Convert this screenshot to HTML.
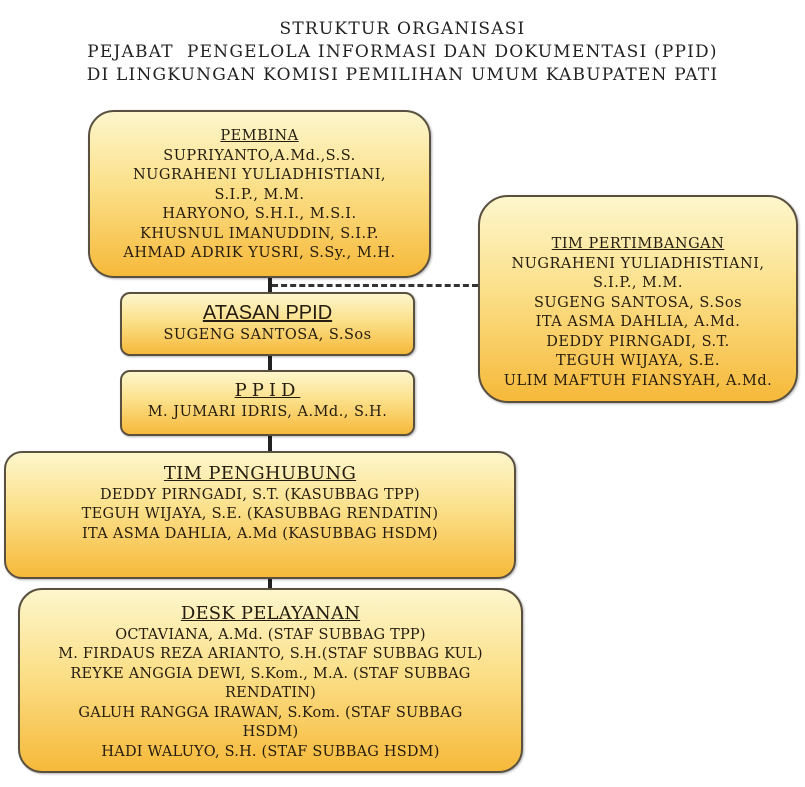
<!DOCTYPE html>
<html><head><meta charset="utf-8"><style>
body{margin:0;width:805px;height:787px;background:#fff;position:relative;overflow:hidden;font-family:"DejaVu Serif",serif;color:#2a2215}
.t{position:absolute;left:0;width:805px;text-align:center;font-size:17px;letter-spacing:1.2px;line-height:23px;top:18px;color:#222}
.b{position:absolute;box-sizing:border-box;border:2px solid #5a5040;background:linear-gradient(#fdf6cc 0%,#fbe08a 45%,#f6b93a 100%);text-align:center;font-size:14.5px;letter-spacing:0.5px;line-height:19.5px;box-shadow:1px 1px 2px rgba(0,0,0,.3);white-space:nowrap;color:#241c10}
.h{text-decoration:underline}
.s{font-family:"Liberation Sans",sans-serif;font-size:20px;line-height:22px;letter-spacing:0}
.l{position:absolute;background:#222}
</style></head><body>
<div class="t">STRUKTUR ORGANISASI<br>PEJABAT&nbsp; PENGELOLA INFORMASI DAN DOKUMENTASI (PPID)<br>DI LINGKUNGAN KOMISI PEMILIHAN UMUM KABUPATEN PATI</div>

<div class="l" style="left:268px;top:277px;width:4px;height:312px"></div>
<div style="position:absolute;left:272px;top:284px;width:206px;border-top:3px dashed #333"></div>

<div class="b" style="left:88px;top:110px;width:343px;height:168px;border-radius:26px;padding-top:15px">
<span class="h">PEMBINA</span><br>SUPRIYANTO,A.Md.,S.S.<br>NUGRAHENI YULIADHISTIANI,<br>S.I.P., M.M.<br>HARYONO, S.H.I., M.S.I.<br>KHUSNUL IMANUDDIN, S.I.P.<br>AHMAD ADRIK YUSRI, S.Sy., M.H.</div>

<div class="b" style="left:478px;top:195px;width:320px;height:208px;border-radius:30px;padding-top:38px">
<span class="h">TIM PERTIMBANGAN</span><br>NUGRAHENI YULIADHISTIANI,<br>S.I.P., M.M.<br>SUGENG SANTOSA, S.Sos<br>ITA ASMA DAHLIA, A.Md.<br>DEDDY PIRNGADI, S.T.<br>TEGUH WIJAYA, S.E.<br>ULIM MAFTUH FIANSYAH, A.Md.</div>

<div class="b" style="left:120px;top:292px;width:295px;height:64px;border-radius:10px;padding-top:8px">
<span class="s h">ATASAN PPID</span><br>SUGENG SANTOSA, S.Sos</div>

<div class="b" style="left:120px;top:370px;width:295px;height:66px;border-radius:10px;padding-top:9px">
<span class="h" style="font-size:18px;letter-spacing:5px">PPID</span><br>M. JUMARI IDRIS, A.Md., S.H.</div>

<div class="b" style="left:4px;top:451px;width:512px;height:128px;border-radius:18px;padding-top:11px;letter-spacing:0.3px">
<span class="h" style="font-size:18px">TIM PENGHUBUNG</span><br>DEDDY PIRNGADI, S.T. (KASUBBAG TPP)<br>TEGUH WIJAYA, S.E. (KASUBBAG RENDATIN)<br>ITA ASMA DAHLIA, A.Md (KASUBBAG HSDM)</div>

<div class="b" style="left:18px;top:588px;width:505px;height:185px;border-radius:24px;padding-top:14px;letter-spacing:0.2px">
<span class="h" style="font-size:18px">DESK PELAYANAN</span><br>OCTAVIANA, A.Md. (STAF SUBBAG TPP)<br>M. FIRDAUS REZA ARIANTO, S.H.(STAF SUBBAG KUL)<br>REYKE ANGGIA DEWI, S.Kom., M.A. (STAF SUBBAG<br>RENDATIN)<br>GALUH RANGGA IRAWAN, S.Kom. (STAF SUBBAG<br>HSDM)<br>HADI WALUYO, S.H. (STAF SUBBAG HSDM)</div>
</body></html>
